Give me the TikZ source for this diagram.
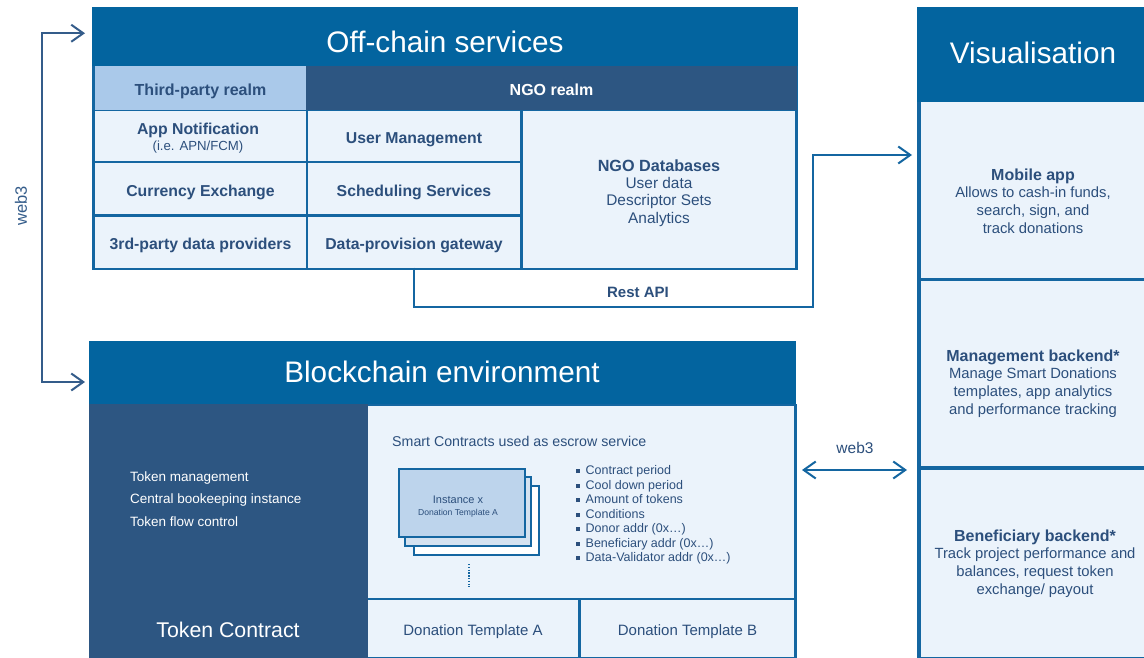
\documentclass[tikz,border=0pt]{standalone}
\usepackage{fontspec}
\setmainfont{Liberation Sans}
\usetikzlibrary{arrows.meta,calc}
\definecolor{hblue}{HTML}{03649F}
\definecolor{bord}{HTML}{1466A1}
\definecolor{dkb}{HTML}{2D5682}
\definecolor{lcell}{HTML}{EBF3FB}
\definecolor{realm}{HTML}{AAC9EA}
\definecolor{txt}{HTML}{2C4F7C}
\definecolor{inst}{HTML}{BDD4EC}
\definecolor{instb}{HTML}{D5E2F0}
\definecolor{arrl}{HTML}{345C8A}
\begin{document}
\begin{tikzpicture}[x=1pt,y=-1pt,
  blk/.style={anchor=north west, inner sep=0pt, outer sep=0pt, draw=none},
  cell/.style={blk, fill=lcell, text=txt, font=\bfseries\fontsize{15.8}{17.5}\selectfont, align=center},
  one/.style={text height=15pt, text depth=0pt},
  title/.style={text=white, font=\fontsize{29.7}{32}\selectfont, inner sep=0pt},
  desc/.style={text=txt, font=\fontsize{14.8}{17.6}\selectfont, align=center, inner sep=0pt},
  tok/.style={anchor=west, text=white, font=\fontsize{13.5}{16}\selectfont, inner sep=0pt, text height=9.7pt, text depth=2.8pt},
  bul/.style={anchor=west, text=txt, font=\fontsize{12.5}{14.5}\selectfont, inner sep=0pt, text height=9pt, text depth=2.6pt},
  instbox/.style={blk, draw=bord, line width=2.4pt},
  conn/.style={draw=bord, line width=2pt},
  tip/.style={-{Straight Barb[length=12pt,width=17pt]}},
  dtip/.style={{Straight Barb[length=12pt,width=17pt]}-{Straight Barb[length=12pt,width=17pt]}},
  lbl/.style={text=txt, inner sep=0pt}
]
\useasboundingbox (0,0) rectangle (1144,658);
\fill[white] (0,0) rectangle (1144,658);

% ---------- Off-chain services ----------
\node[blk, fill=bord, minimum width=706pt, minimum height=263pt] (offframe) at (92,7) {};
\node[blk, fill=hblue, minimum width=706pt, minimum height=59.5pt] (offhead) at (92,7) {};
\node[title] (offtitle) at (445,42) {Off-chain services};
\node[cell, one, font=\bfseries\fontsize{16}{17.5}\selectfont, fill=realm, minimum width=211pt, minimum height=44pt] (tprealm) at (95,66.5) {Third-party realm};
\node[cell, one, font=\bfseries\fontsize{16}{17.5}\selectfont, fill=dkb, text=white, minimum width=491pt, minimum height=44pt] (ngorealm) at (306,66.5) {NGO realm};
\node[cell, minimum width=211pt, minimum height=50pt] (appn) at (95,111) {};
\node[lbl, align=center, font=\bfseries\fontsize{15.8}{16.5}\selectfont] (appntxt) at (198,138) {App Notification\\{\mdseries\fontsize{13.2}{14}\selectfont (i.e. APN/FCM)}};
\node[cell, one, minimum width=212pt, minimum height=50pt] (usrm) at (308,111) {User Management};
\node[cell, one, minimum width=211pt, minimum height=50.5pt] (curx) at (95,163.5) {Currency Exchange};
\node[cell, one, minimum width=212pt, minimum height=50.5pt] (sched) at (308,163.5) {Scheduling Services};
\node[cell, one, minimum width=211pt, minimum height=51pt] (tpdp) at (95,216.5) {3rd-party data providers};
\node[cell, one, minimum width=212pt, minimum height=51pt] (dprov) at (308,216.5) {Data-provision gateway};
\node[cell, minimum width=272pt, minimum height=156.5pt] (ngodb) at (523,111) {};
\node[desc, font=\fontsize{15.4}{17.4}\selectfont] (ngodbtxt) at (659,193) {{\bfseries\fontsize{16.2}{17.4}\selectfont NGO Databases}\\User data\\Descriptor Sets\\Analytics};

% ---------- Visualisation ----------
\node[blk, fill=bord, minimum width=227pt, minimum height=651pt] (visframe) at (917,7) {};
\node[blk, fill=hblue, minimum width=227pt, minimum height=95pt] (vishead) at (917,7) {};
\node[title] (vistitle) at (1033,53) {Visualisation};
\node[cell, minimum width=224pt, minimum height=176pt] (mob) at (920.5,102) {};
\node[cell, minimum width=224pt, minimum height=185pt] (mgmt) at (920.5,281) {};
\node[cell, minimum width=224pt, minimum height=186.5pt] (bene) at (920.5,470) {};
\node[desc] (mobtxt) at (1033,201) {{\bfseries\fontsize{16}{17.6}\selectfont Mobile app}\\Allows to cash-in funds,\\search, sign, and\\track donations};
\node[desc] (mgmttxt) at (1033,383.5) {{\bfseries\fontsize{16}{17.6}\selectfont Management backend*}\\Manage Smart Donations\\templates, app analytics\\and performance tracking};
\node[desc] (benetxt) at (1035,563.5) {{\bfseries\fontsize{16}{17.6}\selectfont Beneficiary backend*}\\Track project performance and\\balances, request token\\exchange/ payout};

% ---------- Blockchain environment ----------
\node[blk, fill=hblue, minimum width=707pt, minimum height=63pt] (bchead) at (89,341) {};
\node[title] (bctitle) at (442,372) {Blockchain environment};
\node[blk, fill=dkb, minimum width=279pt, minimum height=254pt] (tok) at (89,404) {};
\node[blk, fill=bord, minimum width=429pt, minimum height=254pt] (scframe) at (368,404) {};
\node[cell, minimum width=426pt, minimum height=192pt] (sc) at (368,405.5) {};
\node[cell, one, font=\fontsize{15}{17}\selectfont, minimum width=210pt, minimum height=56.5pt] (dta) at (368,600) {Donation Template A};
\node[cell, one, font=\fontsize{15}{17}\selectfont, minimum width=213pt, minimum height=56.5pt] (dtb) at (581,600) {Donation Template B};

\node[text=white, font=\fontsize{21.3}{24}\selectfont, inner sep=0pt] (toktitle) at (228,630) {Token Contract};
\node[tok] (t1) at (130,478.5) {Token management};
\node[tok] (t2) at (130,500.5) {Central bookeeping instance};
\node[tok] (t3) at (130,523.5) {Token flow control};

\node[lbl, anchor=west, font=\fontsize{14.2}{16}\selectfont, text height=10pt, text depth=2.9pt] (sctitle) at (392,442.5) {Smart Contracts used as escrow service};

\node[instbox, fill=white, minimum width=125pt, minimum height=69pt] (inst3) at (414,486) {};
\node[instbox, fill=instb, minimum width=126pt, minimum height=69pt] (inst2) at (405,477) {};
\node[instbox, fill=inst, minimum width=126pt, minimum height=68pt] (inst1) at (399,469) {};
\node[lbl, align=center, font=\fontsize{11}{12}\selectfont] (insttxt) at (458,507) {Instance x\\{\fontsize{8.6}{10}\selectfont Donation Template A}};
\draw[bord, line width=2.4pt, dash pattern=on 1.4pt off 1.4pt] (469,564) -- (469,587);

\foreach \t [count=\i] in {{Contract period},{Cool down period},{Amount of tokens},{Conditions},{Donor addr (0x…)},{Beneficiary addr (0x…)},{Data-Validator addr (0x…)}}
  \node[bul] (b\i) at (576,{457+\i*14.5}) {\rule[1.6pt]{4pt}{4pt}\hspace{5.5pt}\t};

% ---------- Connectors ----------
\coordinate (w3a) at ([xshift=-7pt,yshift=3.5pt]offhead.west);
\coordinate (w3b) at ([xshift=-4pt,yshift=-9.5pt]bchead.west);
\coordinate (w3x) at (42,0);
\draw[conn, draw=arrl, dtip] (w3a) -- (w3a -| w3x) -- (w3b -| w3x) -- (w3b);
\node[lbl, text=arrl, rotate=90, font=\fontsize{16.5}{18}\selectfont] (w3lbl) at (21,206) {web3};

\coordinate (restc) at (813,307);
\coordinate (restin) at ([xshift=-8.5pt,yshift=35pt]mob.west);
\draw[conn, tip] (dprov.south) |- (restc) |- (restin);
\node[lbl, font=\bfseries\fontsize{15}{17}\selectfont] (restlbl) at (638,292) {Rest API};

\coordinate (w3l) at (802,470);
\coordinate (w3r) at (907,470);
\draw[conn, dtip] (w3l) -- (w3r);
\node[lbl, font=\fontsize{15.5}{17}\selectfont] (w3lbl2) at (855,448) {web3};
\end{tikzpicture}
\end{document}
